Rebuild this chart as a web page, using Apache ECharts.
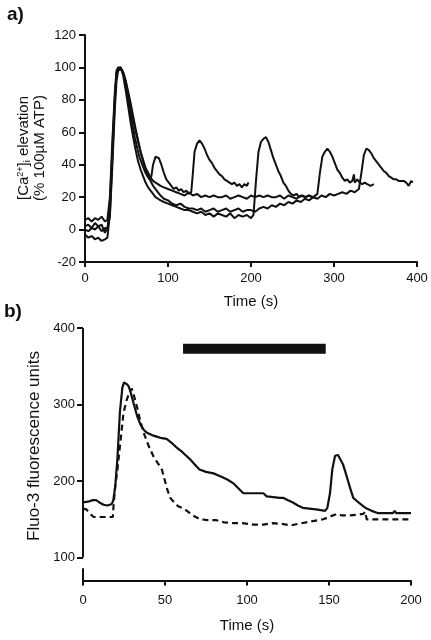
<!DOCTYPE html>
<html>
<head>
<meta charset="utf-8">
<script src="https://cdn.jsdelivr.net/npm/echarts@6.0.0/dist/echarts.min.js"></script>
<style>
html,body{margin:0;padding:0;background:#fff;}
#chart{width:431px;height:640px;}
</style>
</head>
<body>
<div id="chart"></div>
<script>
// ---------- Panel a: [Ca2+]i elevation (% 100uM ATP) vs time (s) ----------
const aXTicks = [0, 100, 200, 300, 400];
const aYTicks = [-20, 0, 20, 40, 60, 80, 100, 120];
const cellA1 = [[0,6],[4,7],[8,5],[12,7],[16,6],[20,8],[24,5],[27,6],[30,20],[33,55],[36,85],[38,98],[40,100],[42,100],[45,98],[48,92],[51,83],[54,74],[57,65],[60,57],[63,50],[66,44],[69,40],[72,36],[75,33],[78,31],[80,33],[82,40],[85,45],[87,46],[89,44],[92,40],[95,35],[98,31],[101,29],[104,27],[107,25],[110,26],[113,24],[116,25],[119,23],[122,24],[125,22],[128,23],[130,35],[132,48],[135,53],[138,55],[141,53],[144,50],[147,46],[150,43],[153,41],[156,38],[159,36],[162,34],[165,33],[168,31],[171,30],[174,29],[177,28],[180,29],[183,27],[186,28],[189,26],[192,28],[195,27],[197,29]];
const cellA2 = [[0,0],[4,-1],[8,1],[12,0],[16,2],[20,-1],[24,1],[27,0],[30,15],[33,50],[36,82],[38,97],[40,100],[43,100],[46,97],[49,91],[52,84],[55,76],[58,68],[61,61],[64,54],[67,48],[70,43],[73,38],[76,35],[79,32],[82,30],[85,29],[88,28],[91,27],[95,26],[100,25],[105,24],[110,23],[115,22],[120,21],[125,23],[130,21],[135,22],[140,20],[145,21],[150,20],[155,21],[160,20],[165,20],[170,21],[175,19],[180,20],[185,21],[190,20],[195,19],[200,21],[205,20],[210,21],[215,20],[220,21],[225,20],[230,20],[235,21],[240,19],[245,21],[250,20],[255,19],[260,21],[265,20],[270,21],[275,20],[280,22],[283,35],[286,45],[289,48],[292,50],[295,48],[298,45],[301,41],[304,37],[307,35],[310,32],[313,30],[316,31],[319,29],[322,30],[324,34],[325,29],[328,31],[331,29],[334,28],[337,29],[340,28],[344,27],[348,28]];
const cellA3 = [[0,-3],[4,-5],[8,-4],[12,-6],[16,-5],[20,-7],[24,-6],[27,-5],[30,10],[33,45],[36,80],[38,96],[40,99],[43,100],[46,95],[49,86],[52,76],[55,66],[58,57],[61,49],[64,42],[67,37],[70,33],[73,29],[76,26],[79,24],[82,22],[85,20],[88,19],[91,18],[95,17],[100,16],[105,15],[110,14],[115,13],[120,12],[125,12],[130,11],[135,10],[140,11],[145,9],[150,10],[155,8],[160,10],[165,9],[170,8],[175,10],[180,7],[185,9],[190,8],[195,9],[200,7],[203,9],[206,30],[209,48],[212,54],[215,56],[218,57],[221,54],[224,49],[227,44],[230,40],[233,36],[236,33],[239,29],[242,27],[245,24],[248,22],[251,21],[255,22],[258,20],[262,21],[266,20],[270,21],[273,20]];
const cellA4 = [[0,2],[4,3],[8,1],[12,4],[16,2],[20,3],[24,-2],[27,1],[30,8],[33,40],[36,75],[38,92],[40,98],[43,99],[46,97],[49,92],[52,85],[55,78],[58,70],[61,62],[64,55],[67,48],[70,42],[73,37],[76,33],[79,30],[82,27],[85,25],[88,23],[91,21],[95,19],[100,18],[105,16],[110,15],[115,16],[120,14],[125,13],[130,13],[135,12],[140,13],[145,11],[150,12],[155,13],[160,11],[165,12],[170,13],[175,11],[180,12],[185,13],[190,11],[195,12],[200,12],[205,11],[210,13],[215,14],[220,13],[225,15],[230,14],[235,16],[240,15],[245,17],[250,16],[255,18],[260,17],[265,19],[270,18],[275,20],[280,19],[285,21],[290,20],[295,22],[300,21],[305,22],[310,23],[315,22],[320,24],[325,23],[330,25],[333,35],[336,46],[339,50],[342,49],[345,47],[348,44],[351,42],[354,40],[357,38],[360,36],[363,35],[366,33],[369,32],[372,31],[375,31],[378,30],[381,30],[384,30],[387,29],[390,27],[393,30],[395,29]];

// ---------- Panel b: Fluo-3 fluorescence units vs time (s) ----------
const bXTicks = [0, 50, 100, 150, 200];
const bYTicks = [100, 200, 300, 400];
const bYMin = 70;
const bYBreakTop = 86;
const bSolid = [[0,172],[3,173],[6,175],[8,175],[10,172],[12.5,169],[15,168],[17.6,170],[18.5,175],[19.7,194],[21,230],[22.5,290],[24,322],[25,329],[26.5,327],[27.8,324],[29,316],[30.8,302],[33,285],[35,274],[37,267],[39,263],[42,260],[45,258],[48,256],[51,255],[54,250],[57,244],[61,237],[65,229],[68,222],[71,215],[75,212],[79.6,210],[84,206],[88,202],[91.7,197],[95,190],[97.8,184],[102,184],[106,184],[110,184],[112,180],[116,179],[120,178],[122,178],[125,175],[128,172],[131,168],[134,165],[138,164],[142,163],[145,162],[147.6,161],[149,165],[150.6,184],[152,215],[153.7,233],[155.5,234],[156.7,232],[158.5,222],[160.8,206],[163,190],[164.8,178],[168,172],[171,167],[173,164],[176,161],[180,158],[185,158],[189,158],[190,161],[191,158],[195,158],[200,158]];
const bDashed = [[0,164],[2,163],[4.4,157],[6.5,153],[10,153],[14,153],[18.2,153],[18.7,170],[19.7,194],[21,215],[22.5,245],[24.7,289],[26.5,305],[28,314],[29.8,321],[31,312],[32.9,297],[35,278],[37,263],[40,246],[43,232],[46,222],[48.1,215],[50,200],[51.5,188],[53.2,178],[56,171],[58,167],[61.3,164],[64,160],[67,155],[71.4,150],[76,149],[81,149],[86,146],[91.7,145],[97,145],[104,143],[110,143],[116,145],[121,144],[126.8,142],[131,144],[136,146],[141,148],[146.5,150],[150,153],[154.7,157],[158,155],[162.8,155],[167,156],[171,157],[172,160],[173,150],[180,150],[190,150],[200,150]];
const bBarTimes = [61, 148];
const bBarLevel = 373;

const FONT = '"Liberation Sans", Arial, Helvetica, sans-serif';
const INK = '#111';

function axisCommon(extra) {
  return Object.assign({
    axisLine: { show: true, onZero: false, lineStyle: { color: INK, width: 2 } },
    axisTick: { show: true, length: 6, lineStyle: { color: INK, width: 2 } },
    axisLabel: { color: INK, fontSize: 13, fontFamily: FONT },
    splitLine: { show: false }
  }, extra);
}

function traceSeries(data, xi, dash, width) {
  return {
    type: 'line', xAxisIndex: xi, yAxisIndex: xi, data: data,
    showSymbol: false, symbol: 'none', silent: true, animation: false,
    lineStyle: { color: INK, width: width, type: dash ? [6, 4] : 'solid' }
  };
}

const chart = echarts.init(document.getElementById('chart'), null, { renderer: 'canvas' });

const option = {
  backgroundColor: '#fff',
  animation: false,
  grid: [
    { left: 85, top: 35, width: 332, height: 227, outerBoundsMode: 'none', containLabel: false },
    { left: 83, top: 328, width: 328, height: 252.5, outerBoundsMode: 'none', containLabel: false }
  ],
  xAxis: [
    axisCommon({
      gridIndex: 0, type: 'value', min: aXTicks[0], max: aXTicks[aXTicks.length - 1], interval: 100,
      name: 'Time (s)', nameLocation: 'middle', nameGap: 32,
      nameTextStyle: { color: INK, fontSize: 15, fontFamily: FONT },
      axisLabel: { color: INK, fontSize: 13, fontFamily: FONT, margin: 10 },
      axisTick: { show: true, length: 5, lineStyle: { color: INK, width: 2 } }
    }),
    axisCommon({
      gridIndex: 1, type: 'value', min: bXTicks[0], max: bXTicks[bXTicks.length - 1], interval: 50,
      name: 'Time (s)', nameLocation: 'middle', nameGap: 38,
      nameTextStyle: { color: INK, fontSize: 15, fontFamily: FONT },
      axisLabel: { color: INK, fontSize: 13, fontFamily: FONT, margin: 13 },
      axisTick: { show: true, length: 5, lineStyle: { color: INK, width: 2 } }
    })
  ],
  yAxis: [
    axisCommon({
      gridIndex: 0, type: 'value', min: aYTicks[0], max: aYTicks[aYTicks.length - 1], interval: 20,
      axisLabel: { color: INK, fontSize: 13, fontFamily: FONT, margin: 9 }
    }),
    axisCommon({
      gridIndex: 1, type: 'value', min: bYMin, max: bYTicks[bYTicks.length - 1],
      axisLine: { show: false },
      axisLabel: { color: INK, fontSize: 13, fontFamily: FONT, margin: 8, customValues: bYTicks },
      axisTick: { show: true, length: 6, customValues: bYTicks, lineStyle: { color: INK, width: 2 } }
    })
  ],
  graphic: [
    { type: 'text', left: 7, top: 5, style: { text: 'a)', fill: INK, font: 'bold 19px ' + FONT } },
    { type: 'text', left: 4, top: 302, style: { text: 'b)', fill: INK, font: 'bold 19px ' + FONT } },
    {
      type: 'text', x: 32, y: 148, rotation: Math.PI / 2,
      style: {
        text: '{n|[Ca}{sup|2+}{n|]}{sub|i}{n| elevation}\n{n|(% 100µM ATP)}',
        align: 'center', verticalAlign: 'middle', fill: INK,
        rich: {
          n: { fontSize: 15, fontFamily: FONT, lineHeight: 16, fill: INK },
          sup: { fontSize: 9, fontFamily: FONT, lineHeight: 16, verticalAlign: 'top', fill: INK },
          sub: { fontSize: 9, fontFamily: FONT, lineHeight: 16, verticalAlign: 'bottom', fill: INK }
        }
      }
    },
    {
      type: 'text', x: 34, y: 446, rotation: Math.PI / 2,
      style: { text: 'Fluo-3 fluorescence units', align: 'center', verticalAlign: 'middle', fill: INK, fontSize: 17, fontFamily: FONT }
    }
  ],
  series: [
    traceSeries(cellA1, 0, false, 2),
    traceSeries(cellA2, 0, false, 2),
    traceSeries(cellA3, 0, false, 2),
    traceSeries(cellA4, 0, false, 2),
    traceSeries(bSolid, 1, false, 2.2),
    traceSeries(bDashed, 1, true, 2.2),
    {
      type: 'line', xAxisIndex: 1, yAxisIndex: 1, silent: true, animation: false,
      data: bBarTimes.map(t => [t, bBarLevel]), showSymbol: false, symbol: 'none',
      lineStyle: { color: INK, width: 10, cap: 'butt' }
    },
    {
      // broken y axis of panel b, drawn in data coordinates
      type: 'line', xAxisIndex: 1, yAxisIndex: 1, data: [], silent: true, clip: false, animation: false,
      markLine: {
        silent: true, symbol: 'none', animation: false,
        label: { show: false },
        lineStyle: { color: INK, width: 2, type: 'solid' },
        emphasis: { disabled: true },
        data: [
          [{ coord: [bXTicks[0], bYTicks[0]] }, { coord: [bXTicks[0], bYTicks[bYTicks.length - 1]] }],
          [{ coord: [bXTicks[0], bYMin] }, { coord: [bXTicks[0], bYBreakTop] }],
          [{ coord: [bXTicks[0] - 2.4, bYBreakTop] }, { coord: [bXTicks[0] + 2.4, bYBreakTop] }]
        ]
      }
    }
  ]
};
chart.setOption(option);
</script>
</body>
</html>
